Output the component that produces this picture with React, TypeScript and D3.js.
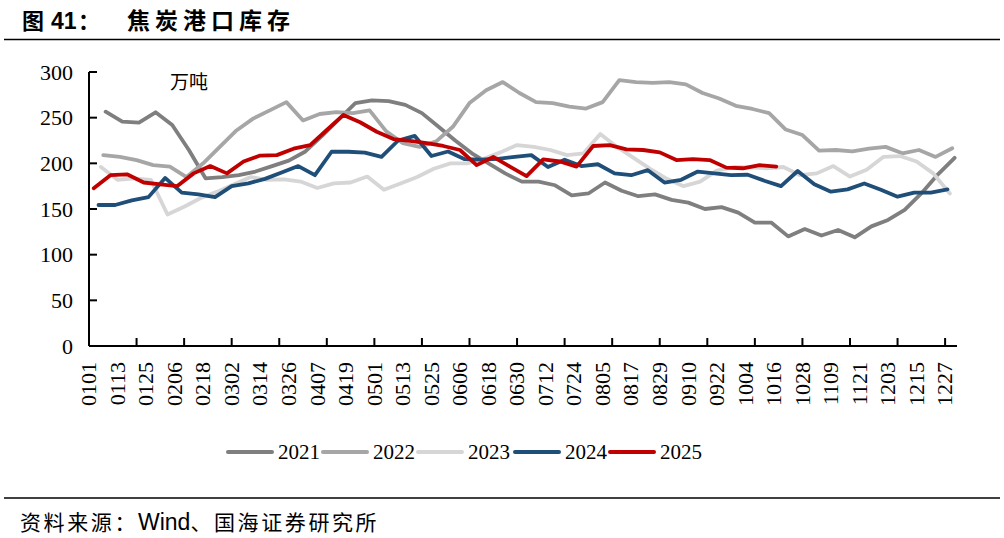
import React from "react";
import * as d3 from "d3";

// 焦炭港口库存（万吨），周度数据，每周五
const years = ["2021", "2022", "2023", "2024", "2025"];
const startDates = ["2021-01-08", "2022-01-07", "2023-01-06", "2024-01-05", "2025-01-03"];
const colors = ["#7f7f7f", "#a6a6a6", "#d6d6d6", "#1f4e79", "#c00000"];

const v2021 = [256.5, 245.6, 244.5, 255.9, 242, 214.6, 183.6, 185, 187, 191, 197, 203, 213, 230, 248, 266,
  269, 268, 264, 255, 240, 225, 211, 200, 189, 180, 180, 176, 165, 167, 179, 170, 164, 166, 160, 157, 150, 152,
  146, 135, 135, 120, 128, 121, 127, 119, 131, 138, 149, 167, 188, 206];
const v2022 = [209, 207, 203.5, 198, 196.5, 185, 200, 218, 236, 249, 258, 267, 247, 254, 256, 255, 258, 235,
  222, 218, 224, 240, 266, 280, 289, 277, 267, 266, 262, 260, 267, 291, 289, 288, 289, 286.5, 277, 271, 263,
  259.5, 255, 237, 231, 214, 214.6, 213, 216, 218, 211, 214.6, 207, 216.5];
const v2023 = [196, 182, 183.6, 182, 144, 152.5, 162, 169, 177, 185, 182, 182.5, 180, 173, 178, 179, 185.5,
  171, 178, 185, 194, 200, 200, 205, 212, 220, 218, 214.6, 209, 211, 232, 218, 206, 194, 183, 175, 180, 192,
  196, 195.6, 194.6, 196, 187, 189, 197, 185.5, 193, 207, 208, 202, 189, 167];
const v2024 = [154.4, 154.4, 159.5, 163, 184, 168, 166, 163, 175, 178, 183, 190, 197, 187, 212.7, 212.7, 211.7,
  207, 225, 230, 208, 213, 204.5, 204, 205, 207, 209, 196, 204, 197, 199, 189, 187, 192.5, 179, 182, 191, 189,
  187, 187.5, 181, 175, 191.6, 177, 169, 171.5, 178, 171, 163.5, 168, 168, 171.5];
const v2025 = [172.6, 187, 188, 179, 177, 175, 189, 197, 189, 202, 208.5, 209, 216, 220, 236.5, 253, 245, 234.6,
  226.6, 224.5, 222, 219, 214.6, 198, 207, 196.4, 186, 204.4, 202, 196.4, 219, 220, 215.3, 214.6, 212, 203.6,
  204.7, 203.6, 195.3, 194.6, 198, 196.4];
const seriesValues = [v2021, v2022, v2023, v2024, v2025];

const xLabels = ["0101", "0113", "0125", "0206", "0218", "0302", "0314", "0326", "0407", "0419", "0501", "0513",
  "0525", "0606", "0618", "0630", "0712", "0724", "0805", "0817", "0829", "0910", "0922", "1004", "1016", "1028",
  "1109", "1121", "1203", "1215", "1227"];
const yTicks = [0, 50, 100, 150, 200, 250, 300];

const serifStyle = { fontFamily: '"Liberation Serif", "DejaVu Serif", serif' };
const cjk = "Noto Sans CJK SC, sans-serif";
const sans = "Liberation Sans, Arial, sans-serif";

const W = 1004;
const H = 538;

const parse = d3.timeParse("%Y-%m-%d");
const dayOfYear = (d: Date) => d3.timeDay.count(d3.timeYear(d), d);

const App: React.FC = () => {
  const x = d3.scaleLinear().domain([0, 365]).range([89, 957]);
  const y = d3.scaleLinear().domain([0, 300]).range([346, 72]);

  const line = d3.line<{ day: number; value: number }>()
    .x(d => x(d.day))
    .y(d => y(d.value))
    .curve(d3.curveLinear);

  const series = years.map((yr, k) => {
    const start = parse(startDates[k])!;
    const pts = seriesValues[k].map((value, i) => ({
      day: dayOfYear(d3.timeDay.offset(start, 7 * i)),
      value,
    }));
    return { name: yr, color: colors[k], pts };
  });

  const labelDay = (lab: string) => dayOfYear(parse(`2021-${lab.slice(0, 2)}-${lab.slice(2)}`)!);
  const xTicks = d3.range(0, 361, 20);

  const legendX = [228, 323, 418, 515, 610];

  return (
    <div style={{ position: "absolute", left: 0, top: 0 }}>
      <svg width={W} height={H} style={{ display: "block", background: "#fff" }}>
        {/* title */}
        <text x={22} y={29} fontFamily={cjk} fontWeight={700} fontSize={22} fill="#000">图</text>
        <text x={51} y={29} fontFamily={sans} fontWeight={700} fontSize={23} fill="#000">41</text>
        <text x={78} y={29} fontFamily={cjk} fontWeight={700} fontSize={22} fill="#000">：</text>
        <text x={127} y={29} fontFamily={cjk} fontWeight={700} fontSize={23} letterSpacing={5} fill="#000">焦炭港口库存</text>
        <line x1={4} x2={1000} y1={39.5} y2={39.5} stroke="#000" strokeWidth={1.5} />

        {/* unit */}
        <text x={170} y={89} fontFamily={cjk} fontSize={19} fill="#000">万吨</text>

        {/* y axis */}
        <line x1={x(0)} x2={x(0)} y1={y(300)} y2={y(0)} stroke="#000" strokeWidth={2} />
        {yTicks.map(t => (
          <g key={t}>
            <line x1={x(0)} x2={x(0) + 8} y1={y(t)} y2={y(t)} stroke="#000" strokeWidth={2} />
            <text x={73} y={y(t)} dy="0.35em" textAnchor="end" style={serifStyle} fontSize={22} fill="#000">{t}</text>
          </g>
        ))}

        {/* x axis */}
        <line x1={x(0)} x2={x(365)} y1={y(0)} y2={y(0)} stroke="#000" strokeWidth={2} />
        {xTicks.map(t => (
          <line key={t} x1={x(t)} x2={x(t)} y1={y(0)} y2={y(0) - 8} stroke="#000" strokeWidth={2} />
        ))}
        {xLabels.map(lab => (
          <text key={lab} transform={`translate(${x(labelDay(lab))},362) rotate(-90)`} textAnchor="end"
            dy="0.33em" style={serifStyle} fontSize={22} fill="#000">{lab}</text>
        ))}

        {/* lines */}
        {series.map(s => (
          <path key={s.name} d={line(s.pts) ?? ""} fill="none" stroke={s.color} strokeWidth={3.8}
            strokeLinejoin="round" strokeLinecap="round" />
        ))}

        {/* legend */}
        {series.map((s, k) => (
          <g key={s.name} transform={`translate(${legendX[k]},452)`}>
            <line x1={0} x2={44} y1={0} y2={0} stroke={s.color} strokeWidth={4} strokeLinecap="round" />
            <text x={50} y={0} dy="0.35em" style={serifStyle} fontSize={21} fill="#000">{s.name}</text>
          </g>
        ))}

        {/* source */}
        <line x1={4} x2={1000} y1={498} y2={498} stroke="#000" strokeWidth={1.5} />
        <text x={20} y={530} fontFamily={cjk} fontSize={21} letterSpacing={2.6} fill="#000">
          资料来源：<tspan fontFamily={sans} fontSize={23} letterSpacing={0}>Wind</tspan>、国海证券研究所
        </text>
      </svg>
    </div>
  );
};

export default App;
